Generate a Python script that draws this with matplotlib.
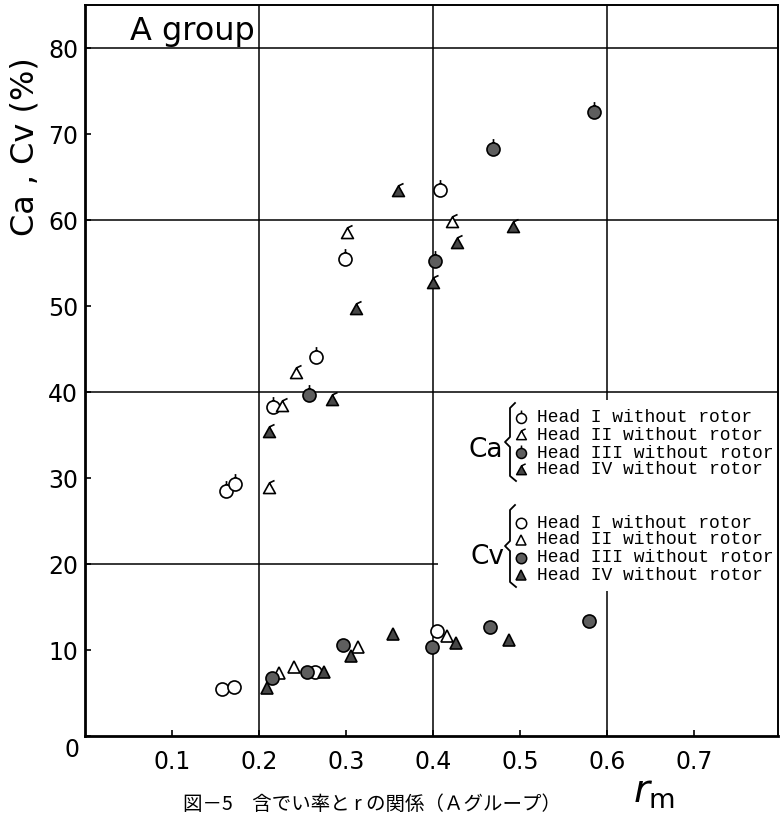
import numpy as np
import matplotlib.pyplot as plt
from matplotlib.path import Path
from matplotlib.lines import Line2D
from matplotlib.patches import Rectangle

plt.rcParams['font.family'] = ['DejaVu Sans']
plt.rcParams['mathtext.fontset'] = 'dejavusans'

# Ca values
ca_h1_x = [0.162, 0.172, 0.216, 0.266, 0.299, 0.408]
ca_h1_y = [28.5, 29.3, 38.2, 44.1, 55.5, 63.5]
ca_h2_x = [0.211, 0.226, 0.243, 0.301, 0.422]
ca_h2_y = [28.8, 38.4, 42.2, 58.5, 59.8]
ca_h3_x = [0.257, 0.402, 0.469, 0.585]
ca_h3_y = [39.7, 55.2, 68.2, 72.6]
ca_h4_x = [0.211, 0.284, 0.311, 0.360, 0.400, 0.428, 0.492]
ca_h4_y = [35.3, 39.1, 49.6, 63.4, 52.7, 57.3, 59.2]

# Cv values
cv_h1_x = [0.157, 0.171, 0.264, 0.405]
cv_h1_y = [5.5, 5.7, 7.5, 12.2]
cv_h2_x = [0.223, 0.240, 0.314, 0.416]
cv_h2_y = [7.3, 8.0, 10.4, 11.6]
cv_h3_x = [0.215, 0.255, 0.297, 0.399, 0.466, 0.579]
cv_h3_y = [6.8, 7.4, 10.6, 10.3, 12.7, 13.4]
cv_h4_x = [0.209, 0.275, 0.306, 0.354, 0.426, 0.487]
cv_h4_y = [5.6, 7.4, 9.3, 11.9, 10.8, 11.2]

heads = ['Head I without rotor', 'Head II without rotor',
         'Head III without rotor', 'Head IV without rotor']
x_ticks = [0.1, 0.2, 0.3, 0.4, 0.5, 0.6, 0.7]
y_ticks = [0, 10, 20, 30, 40, 50, 60, 70, 80]

W, H = 780, 817


def fx(px):
    return px / W


def fy(py):
    return 1 - py / H


def with_tail(base, tail):
    verts = np.vstack([base.vertices, tail])
    codes = np.concatenate([base.codes, [Path.MOVETO, Path.LINETO]])
    return Path(verts, codes)


circ = Path.unit_circle()
circle_tick = with_tail(circ, [[0, 1], [0, 1.6]])
tri = Path([[-1, -0.85], [1, -0.85], [0, 0.95], [-1, -0.85]],
           [Path.MOVETO, Path.LINETO, Path.LINETO, Path.CLOSEPOLY])
tri_tail = with_tail(tri, [[0, 0.95], [0.85, 1.35]])

grey3 = '#5e5e5e'
grey4 = '#474747'

fig = plt.figure(figsize=(7.8, 8.17), dpi=100)
ax = fig.add_axes([fx(85), fy(736), fx(778) - fx(85), fy(5) - fy(736)])
ax.set_xlim(0, (778 - 85) / 870)
ax.set_ylim(0, 85)

# grid
for gx in [0.2, 0.4, 0.6]:
    ax.axvline(gx, color='black', lw=1.1, zorder=1)
for gy in [20, 40, 60, 80]:
    ax.axhline(gy, color='black', lw=1.1, zorder=1)

# white area behind the legend
ax.add_patch(Rectangle((fx(438), fy(591)), fx(779) - fx(438), fy(400) - fy(591),
                       transform=fig.transFigure, facecolor='white',
                       edgecolor='none', zorder=1.5))

mk = dict(linestyle='none', mec='black', mew=1.2, zorder=3)
ax.plot(ca_h1_x, ca_h1_y, marker=circle_tick, ms=15, mfc='white', **mk)
ax.plot(ca_h2_x, ca_h2_y, marker=tri_tail, ms=11.5, mfc='white', **mk)
ax.plot(ca_h3_x, ca_h3_y, marker=circle_tick, ms=15, mfc=grey3, **mk)
ax.plot(ca_h4_x, ca_h4_y, marker=tri_tail, ms=11.5, mfc=grey4, **mk)

ax.plot(cv_h1_x, cv_h1_y, marker='o', ms=9.4, mfc='white', **mk)
ax.plot(cv_h2_x, cv_h2_y, marker='^', ms=9, mfc='white', **mk)
ax.plot(cv_h3_x, cv_h3_y, marker='o', ms=9.4, mfc=grey3, **mk)
ax.plot(cv_h4_x, cv_h4_y, marker='^', ms=9, mfc=grey4, **mk)

# axes styling
for s in ax.spines.values():
    s.set_linewidth(1.4)
ax.spines['left'].set_linewidth(2)
ax.spines['bottom'].set_linewidth(2)

ax.set_xticks(x_ticks)
ax.set_xticklabels([f'{v:.1f}' for v in x_ticks])
ax.set_yticks(y_ticks)
ax.set_yticklabels([''] + [str(v) for v in y_ticks[1:]])
ax.tick_params(axis='x', direction='in', length=4, width=1.2, labelsize=17, pad=10)
ax.tick_params(axis='y', direction='in', length=4, width=1.2, labelsize=17, pad=5)
fig.text(fx(72), fy(750), '0', fontsize=17, ha='center', va='center')

# titles and labels
fig.text(fx(130), fy(40), 'A group', fontsize=23, ha='left', va='baseline')
fig.text(fx(25), fy(147), 'Ca , Cv (%)', fontsize=23, rotation=90,
         ha='center', va='center')
fig.text(fx(633), fy(803), r'$r_{\rm m}$', fontsize=28, ha='left', va='baseline')
fig.text(fx(183), fy(815), '図－5　含でい率と r の関係（Ａグループ）', fontsize=14,
         family=['Noto Sans CJK JP', 'DejaVu Sans'], ha='left', va='bottom')

# hand-drawn style legend
def brace(top, bottom):
    mid = (top + bottom) / 2
    xs = [515, 510, 510, 505, 510, 510, 516]
    ys = [top, top + 5, mid - 5, mid, mid + 5, bottom - 5, bottom]
    fig.add_artist(Line2D([fx(v) for v in xs], [fy(v) for v in ys],
                          color='black', lw=1.3))


brace(403, 481)
brace(505, 587)
fig.text(fx(503), fy(450), 'Ca', fontsize=19, ha='right', va='center')
fig.text(fx(504), fy(557), 'Cv', fontsize=19, ha='right', va='center')

ca_rows = [418, 435, 453, 470]
cv_rows = [523, 540, 558, 575]
ca_marks = [(circle_tick, 'white', 11.5), (tri_tail, 'white', 9.5),
            (circle_tick, grey3, 11.5), (tri_tail, grey4, 9.5)]
cv_marks = [('o', 'white', 7.5), ('^', 'white', 7.5),
            ('o', grey3, 7.5), ('^', grey4, 7.5)]
lg = dict(linestyle='none', mec='black', mew=1.1, transform=fig.transFigure,
          clip_on=False, zorder=4)
for rows, marks in [(ca_rows, ca_marks), (cv_rows, cv_marks)]:
    for row, (m, fc, size), label in zip(rows, marks, heads):
        ax.plot([fx(521)], [fy(row)], marker=m, ms=size, mfc=fc, **lg)
        fig.text(fx(537), fy(row), label, fontsize=13,
                 family='Liberation Mono', ha='left', va='center')

fig.savefig('out.png', dpi=100)
